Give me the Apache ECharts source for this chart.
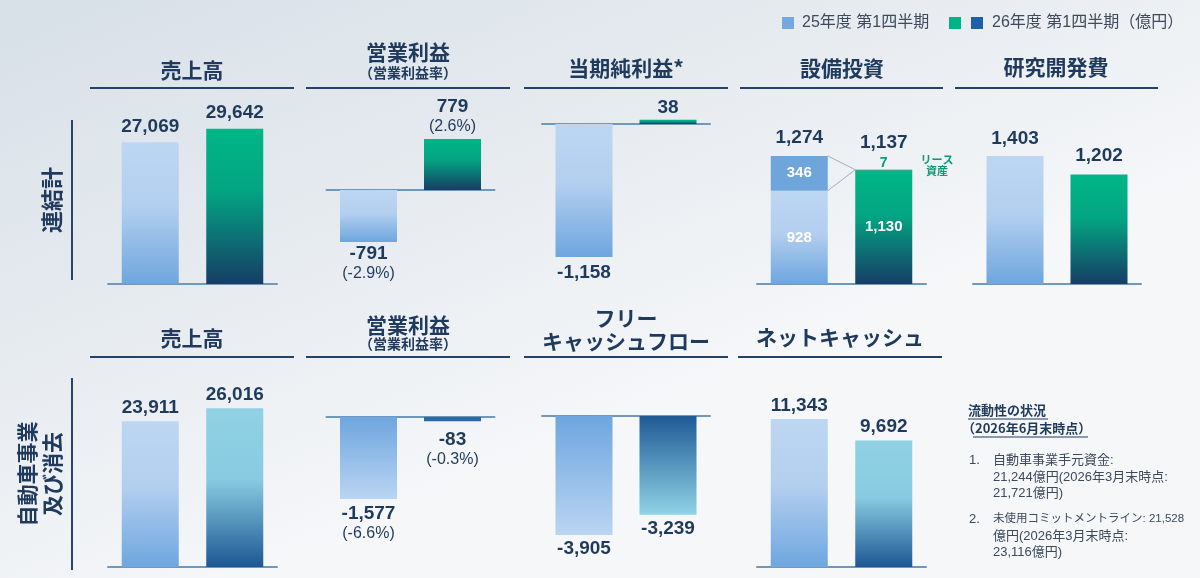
<!DOCTYPE html>
<html>
<head>
<meta charset="utf-8"/>
<title>第1四半期 業績概要</title>
<script src="https://cdn.jsdelivr.net/npm/echarts@6/dist/echarts.min.js"></script>
<style>
    html, body { margin: 0; padding: 0; }
    #main { width: 1200px; height: 578px; }
</style>
</head>
<body>
<div id="main"></div>
<script>
// ---- data (億円) ----
var periods = ['25年度 第1四半期', '26年度 第1四半期'];

var consolSales = [27069, 29642];
var consolOpIncome = [-791, 779];
var consolOpMargin = [-2.9, 2.6];
var consolNetIncome = [-1158, 38];
var capexBase = [928, 1130];
var capexTop = [346, 7];          // 26年度 top part = リース資産
var consolRnd = [1403, 1202];

var autoSales = [23911, 26016];
var autoOpIncome = [-1577, -83];
var autoOpMargin = [-6.6, -0.3];
var autoFcf = [-3905, -3239];
var autoNetCash = [11343, 9692];

var liquidityLines = [
    ['1.', '自動車事業手元資金:'],
    ['', '21,244億円(2026年3月末時点:'],
    ['', '21,721億円)'],
    ['2.', '未使用コミットメントライン: 21,528'],
    ['', '億円(2026年3月末時点:'],
    ['', '23,116億円)']
];

// ---- styles ----
var NAVY = '#1f3a5c';
var NUM_FONT = '"Liberation Sans", "Noto Sans CJK JP", sans-serif';
var JP_FONT = '"Noto Sans CJK JP", "Liberation Sans", sans-serif';

function grad(stops) {
    return new echarts.graphic.LinearGradient(0, 0, 0, 1, stops.map(function (s) {
        return {offset: s[0], color: s[1]};
    }));
}
var cPrev = grad([[0, '#bdd7f2'], [0.45, '#b3cfef'], [1, '#6ea6df']]);
var cPrevDown = grad([[0, '#6ea6df'], [1, '#bad5f2']]);
var cGreen = grad([[0, '#00b687'], [0.4, '#03a582'], [1, '#163d66']]);
var cCyan = grad([[0, '#90d1e4'], [0.45, '#88cbe0'], [1, '#1d5794']]);
var cCyanDown = grad([[0, '#1f5a96'], [1, '#8fd3e5']]);

function fmt(v) { return v.toLocaleString('en-US'); }

var rich = {
    v: {fontSize: 19, fontWeight: 'bold', color: NAVY, fontFamily: NUM_FONT, lineHeight: 21},
    p: {fontSize: 16, color: NAVY, fontFamily: NUM_FONT, lineHeight: 19}
};

function valLabel(v, dist, pct) {
    var txt = '{v|' + fmt(v) + '}';
    if (pct != null) txt += '\n{p|(' + pct.toFixed(1) + '%)}';
    return {show: true, position: v < 0 ? 'bottom' : 'top', distance: dist, formatter: txt, rich: rich};
}

// ---- panels ----
var grids = [], xAxes = [], yAxes = [], series = [];

function addPanel(left, width, top, bottom, base, scale) {
    var i = grids.length;
    grids.push({left: left, width: width, top: top, height: bottom - top});
    xAxes.push({
        type: 'category', gridIndex: i, data: periods,
        axisLine: {onZero: true, lineStyle: {color: '#6f98bd', width: 2}},
        axisTick: {show: false}, axisLabel: {show: false}, splitLine: {show: false}
    });
    yAxes.push({
        type: 'value', gridIndex: i, show: false, splitLine: {show: false},
        min: -(bottom - base) / scale, max: (base - top) / scale
    });
    return i;
}

function addBars(i, values, colors, dists, pcts) {
    series.push({
        type: 'bar', xAxisIndex: i, yAxisIndex: i, barWidth: 57,
        data: values.map(function (v, k) {
            return {
                value: v,
                itemStyle: {color: colors[k]},
                label: valLabel(v, dists[k], pcts ? pcts[k] : null)
            };
        })
    });
}

var T1 = 95, B1 = 290, T2 = 365, B2 = 575;

// 連結計
var p = addPanel(108, 169, T1, B1, 284, 0.00524);
addBars(p, consolSales, [cPrev, cGreen], [5, 5]);

p = addPanel(326.5, 168, T1, B1, 190, 0.0656);
addBars(p, consolOpIncome, [cPrev, cGreen], [1, 3], consolOpMargin);

p = addPanel(542, 168, T1, B1, 124, 0.1149);
addBars(p, consolNetIncome, [cPrev, cGreen], [5, 1]);

var pCap = addPanel(757, 169, T1, B1, 284, 0.1005);
series.push({
    type: 'bar', xAxisIndex: pCap, yAxisIndex: pCap, barWidth: 57, stack: 'capex',
    data: capexBase.map(function (v, k) {
        return {
            value: v,
            itemStyle: {color: k === 0 ? cPrev : cGreen},
            label: {show: true, position: 'inside', formatter: fmt(v),
                color: '#fff', fontSize: 15, fontWeight: 'bold', fontFamily: NUM_FONT}
        };
    })
});
series.push({
    type: 'bar', xAxisIndex: pCap, yAxisIndex: pCap, barWidth: 57, stack: 'capex',
    data: capexTop.map(function (v, k) {
        return {
            value: v,
            itemStyle: {color: k === 0 ? '#6ea6dc' : '#0b6e5e'},
            label: k === 0
                ? {show: true, position: 'inside', formatter: fmt(v), color: '#fff',
                   fontSize: 15, fontWeight: 'bold', fontFamily: NUM_FONT}
                : {show: true, position: 'top', distance: 0, formatter: fmt(v), color: '#0a9a7a',
                   fontSize: 14, fontWeight: 'bold', fontFamily: NUM_FONT}
        };
    })
});
// totals + connector lines
series.push({
    type: 'custom', xAxisIndex: pCap, yAxisIndex: pCap, z: 3,
    data: periods.map(function (d, k) { return [k, capexBase[k] + capexTop[k]]; }),
    renderItem: function (params, api) {
        var k = api.value(0);
        var pt = api.coord([k, api.value(1)]);
        var children = [{
            type: 'text',
            style: {
                text: fmt(api.value(1)), x: pt[0], y: pt[1] - (k === 0 ? 18 : 27),
                align: 'center', verticalAlign: 'middle',
                font: 'bold 19px ' + NUM_FONT, fill: NAVY
            }
        }];
        if (k === 0) {
            var hw = 28.5;
            var a = api.coord([0, capexBase[0] + capexTop[0]]);
            var b = api.coord([0, capexBase[0]]);
            var c = api.coord([1, capexBase[1] + capexTop[1]]);
            [a, b].forEach(function (s) {
                children.push({
                    type: 'line',
                    shape: {x1: s[0] + hw, y1: s[1], x2: c[0] - hw, y2: c[1]},
                    style: {stroke: '#a3afbb', lineWidth: 1}
                });
            });
        }
        return {type: 'group', children: children};
    }
});

p = addPanel(973, 168, T1, B1, 284, 0.0912);
addBars(p, consolRnd, [cPrev, cGreen], [7, 8]);

// 自動車事業及び消去
p = addPanel(108, 169, T2, B2, 567, 0.0061);
addBars(p, autoSales, [cPrev, cCyan], [3, 3]);

p = addPanel(326.5, 168, T2, B2, 417, 0.052);
addBars(p, autoOpIncome, [cPrevDown, '#2b68a6'], [4, 8], autoOpMargin);

p = addPanel(542, 168, T2, B2, 416, 0.0305);
addBars(p, autoFcf, [cPrevDown, cCyanDown], [3, 3]);

p = addPanel(757, 169, T2, B2, 567, 0.01305);
addBars(p, autoNetCash, [cPrev, cCyan], [3, 3]);

// ---- texts & decorations ----
var graphics = [];
graphics.push({
    type: 'rect', z: -100, silent: true,
    shape: {x: 0, y: 0, width: 1200, height: 578},
    style: {fill: new echarts.graphic.LinearGradient(0, 0, 0.2, 1, [
        {offset: 0, color: '#d7e0e7'}, {offset: 0.5, color: '#e5eaef'}, {offset: 1, color: '#f5f7f9'}])}
});

function txt(x, y, s, size, opt) {
    opt = opt || {};
    graphics.push({
        type: 'text', x: x, y: y, rotation: opt.rotation || 0, z: 10,
        style: {
            text: s, align: opt.align || 'center', verticalAlign: 'middle',
            font: (opt.weight || 'bold') + ' ' + size + 'px ' + (opt.family || JP_FONT),
            fill: opt.color || NAVY, lineHeight: opt.lineHeight
        }
    });
}
function hline(x1, x2, y, color, w) {
    graphics.push({type: 'line', z: 10, shape: {x1: x1, y1: y, x2: x2, y2: y},
        style: {stroke: color || '#24416a', lineWidth: w || 2}});
}
function vline(x, y1, y2) {
    graphics.push({type: 'line', z: 10, shape: {x1: x, y1: y1, x2: x, y2: y2},
        style: {stroke: '#2a4468', lineWidth: 2}});
}

// legend
graphics.push({type: 'rect', z: 10, shape: {x: 782, y: 17, width: 12, height: 12}, style: {fill: '#74a9de'}});
txt(802, 23, '25年度 第1四半期', 16, {align: 'left', weight: 'normal', family: NUM_FONT, color: '#3d4b5c'});
graphics.push({type: 'rect', z: 10, shape: {x: 949, y: 17, width: 12, height: 12}, style: {fill: '#00b386'}});
graphics.push({type: 'rect', z: 10, shape: {x: 971, y: 17, width: 12, height: 12}, style: {fill: '#1f5fa8'}});
txt(992, 23, '26年度 第1四半期（億円）', 16, {align: 'left', weight: 'normal', family: NUM_FONT, color: '#3d4b5c'});

// top row titles
txt(192, 70, '売上高', 21);
txt(408, 52, '営業利益', 21);
txt(408, 73, '（営業利益率）', 14);
txt(626, 68, '当期純利益*', 21);
txt(842, 68, '設備投資', 21);
txt(1056, 67, '研究開発費', 21);
[[90, 294], [306, 510], [524, 728], [740, 943], [955, 1158]].forEach(function (s) { hline(s[0], s[1], 88); });

// bottom row titles
txt(192, 338, '売上高', 21);
txt(408, 325, '営業利益', 21);
txt(408, 344, '（営業利益率）', 14);
txt(626, 318, 'フリー', 21);
txt(626, 341, 'キャッシュフロー', 21);
txt(840, 337, 'ネットキャッシュ', 21);
[[90, 294], [306, 510], [524, 728], [738, 942]].forEach(function (s) { hline(s[0], s[1], 357); });

// row labels
txt(52, 200, '連結計', 22, {rotation: Math.PI / 2});
vline(72, 120, 280);
txt(40, 474, '自動車事業\n及び消去', 21, {rotation: Math.PI / 2, lineHeight: 25});
vline(72, 378, 570);

// lease note
txt(937, 160, 'リース', 11, {color: '#0a9a7a'});
txt(937, 171, '資産', 11, {color: '#0a9a7a'});

// liquidity notes
txt(968, 410, '流動性の状況', 13, {align: 'left'});
hline(968, 1048, 419, NAVY, 1);
txt(962, 428, '（2026年6月末時点）', 13, {align: 'left'});
hline(973, 1088, 437, NAVY, 1);
var ly = [460, 477, 493, 519, 536, 552];
var lsize = [13, 13, 13, 11.5, 13, 13];
liquidityLines.forEach(function (l, k) {
    if (l[0]) txt(969, ly[k], l[0], 13, {align: 'left', weight: 'normal', family: NUM_FONT, color: '#3b4a5c'});
    txt(993, ly[k], l[1], lsize[k], {align: 'left', weight: 'normal', family: NUM_FONT, color: '#3b4a5c'});
});

var myChart = echarts.init(document.getElementById('main'));
myChart.setOption({
    animation: false,
    grid: grids,
    xAxis: xAxes,
    yAxis: yAxes,
    series: series,
    graphic: graphics
});
</script>
</body>
</html>
